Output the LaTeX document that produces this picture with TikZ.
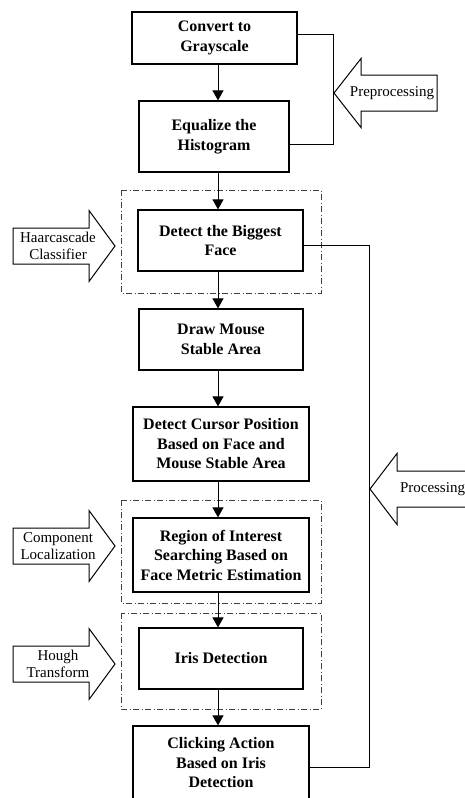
\documentclass[tikz,border=0pt]{standalone}
\usepackage{fontspec}
\setmainfont{Liberation Serif}
\usetikzlibrary{arrows.meta,positioning}

\begin{document}
\begin{tikzpicture}[x=1pt,y=-1pt,
    stage/.style={draw, line width=1.2pt, align=center, inner sep=0pt,
      font=\bfseries\fontsize{16}{19.5}\selectfont},
    sidelabel/.style={align=center, inner sep=0pt,
      font=\fontsize{15}{17}\selectfont},
    flow/.style={-{Triangle[length=10pt,width=11pt]}, line width=1pt},
    bracket/.style={line width=1pt},
    bigarrow/.style={line width=1pt, line join=miter},
    group/.style={line width=0.9pt, black!75,
      dash pattern=on 6pt off 2.5pt on 1pt off 2.5pt}]

  \useasboundingbox (0,0) rectangle (465,798);

  % x of the vertical flow arrows
  \coordinate (spine) at (218,0);

  % The processing steps
  \node[stage, minimum width=165pt, minimum height=52pt] (gray) at (214.5,38) {Convert to\\Grayscale};
  \node[stage, minimum width=150pt, minimum height=71pt] (equal) at (214,136.5) {Equalize the\\Histogram};
  \node[stage, minimum width=165pt, minimum height=61pt] (face) at (220.5,240.5) {Detect the Biggest\\Face};
  \node[stage, minimum width=164pt, minimum height=61pt] (stable) at (221,339.5) {Draw Mouse\\Stable Area};
  \node[stage, minimum width=176pt, minimum height=74pt] (cursor) at (221,444) {Detect Cursor Position\\Based on Face and\\Mouse Stable Area};
  \node[stage, minimum width=176pt, minimum height=74pt] (roi) at (221,555) {Region of Interest\\Searching Based on\\Face Metric Estimation};
  \node[stage, minimum width=164pt, minimum height=61pt] (iris) at (221,658.5) {Iris Detection};
  \node[stage, minimum width=176pt, minimum height=74pt] (click) at (221,763) {Clicking Action\\Based on Iris\\Detection};

  % Dash-dotted frames round the method steps
  \draw[group] (121,190) rectangle (321,293);
  \draw[group] (121,500) rectangle (321,603);
  \draw[group] (121,613) rectangle (321,709);

  % Flow from step to step
  \draw[flow] (gray.south -| spine) -- (equal.north -| spine);
  \draw[flow] (equal.south -| spine) -- (face.north -| spine);
  \draw[flow] (face.south -| spine) -- (stable.north -| spine);
  \draw[flow] (stable.south -| spine) -- (cursor.north -| spine);
  \draw[flow] (cursor.south -| spine) -- (roi.north -| spine);
  \draw[flow] (roi.south -| spine) -- (iris.north -| spine);
  \draw[flow] (iris.south -| spine) -- (click.north -| spine);

  % Brackets for the two stages
  \draw[bracket] ([yshift=4pt]gray.east) -- ++(36,0) |- ([yshift=-7.5pt]equal.east);
  \draw[bracket] ([yshift=-4.5pt]face.east) -- ++(66,0) |- ([yshift=-4pt]click.east);

  % Stage arrows on the right
  \draw[bigarrow] (437,75) -- (361,75) -- (361,58.5) -- (334,93) -- (361,127.5) -- (361,111) -- (437,111) -- cycle;
  \node[sidelabel] (pre) at (392,93) {Preprocessing};

  \draw[bigarrow] (480,471) -- (397,471) -- (397,453.5) -- (370,489) -- (397,524.5) -- (397,507) -- (480,507) -- cycle;
  \node[sidelabel] (proc) at (432.5,489) {Processing};

  % Method arrows on the left
  \draw[bigarrow] (13,228) -- (89,228) -- (89,210.5) -- (115,246) -- (89,281.5) -- (89,264) -- (13,264) -- cycle;
  \node[sidelabel] (haar) at (58,246) {Haarcascade\\Classifier};

  \draw[bigarrow] (13,528) -- (89,528) -- (89,510.5) -- (115,546) -- (89,581.5) -- (89,564) -- (13,564) -- cycle;
  \node[sidelabel] (comp) at (58,546) {Component\\Localization};

  \draw[bigarrow] (13,646) -- (89,646) -- (89,628.5) -- (115,664) -- (89,699.5) -- (89,682) -- (13,682) -- cycle;
  \node[sidelabel] (hough) at (58,664) {Hough\\Transform};

\end{tikzpicture}
\end{document}
